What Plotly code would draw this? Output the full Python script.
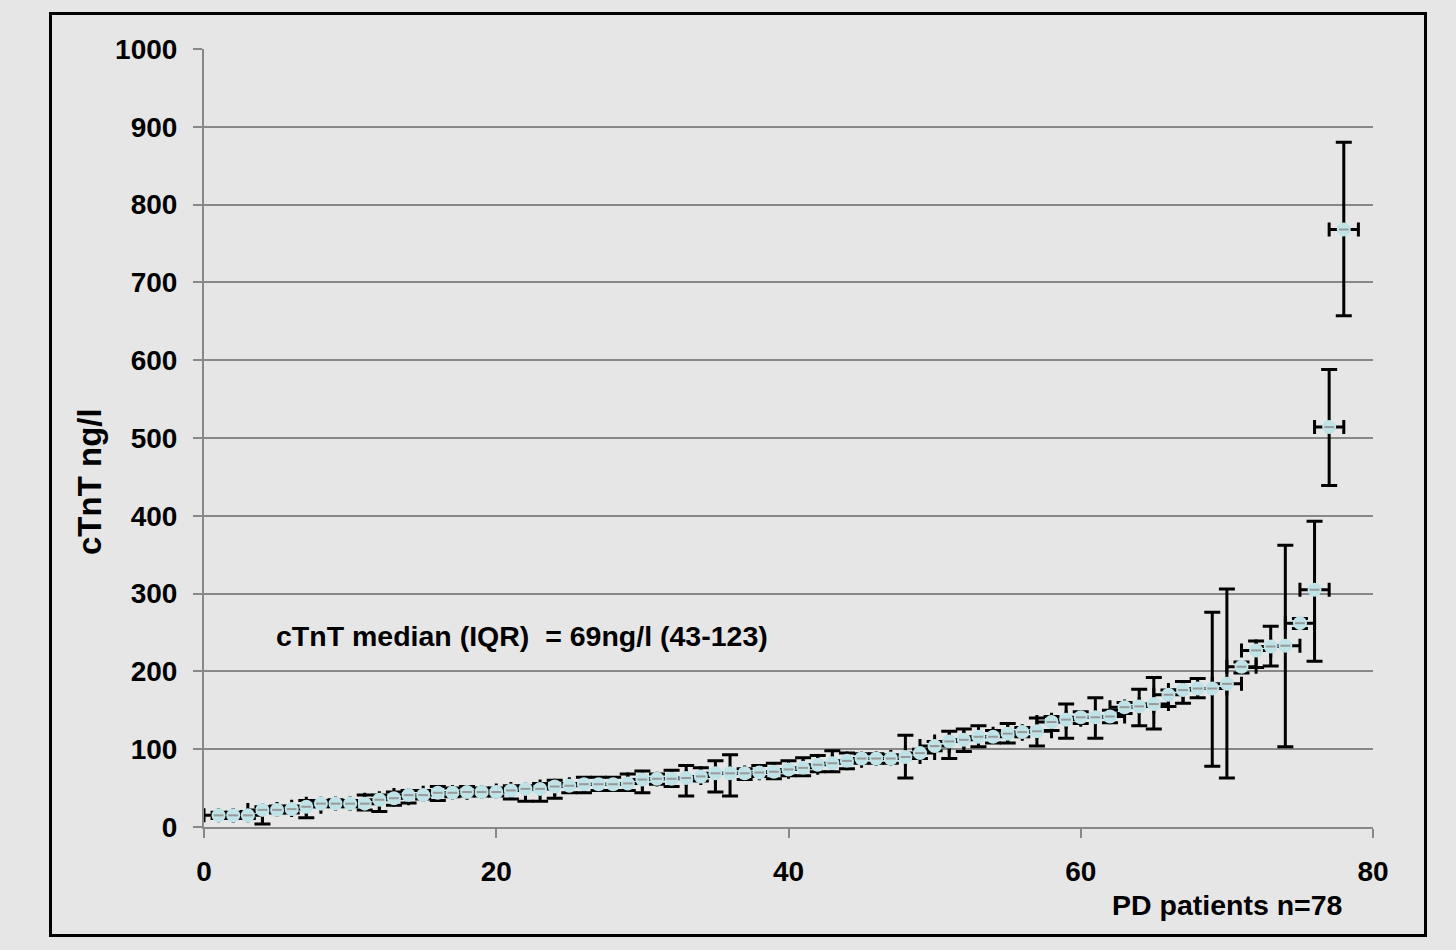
import plotly.graph_objects as go

# Patient index (sorted by cTnT)
patients = list(range(1, 79))

# cTnT median per patient (ng/l)
ctnt = [15, 15, 15, 22, 22, 23, 26, 30, 30, 30,
        30, 35, 37, 41, 41, 44, 44, 45, 45, 45,
        47, 49, 49, 52, 53, 55, 55, 55, 56, 61,
        62, 62, 63, 65, 69, 69, 69, 70, 71, 74,
        76, 80, 82, 85, 88, 88, 88, 90, 95, 104,
        110, 112, 116, 116, 120, 122, 123, 135, 138, 141,
        141, 142, 154, 155, 158, 170, 176, 178, 178, 184,
        206, 227, 232, 233, 262, 305, 514, 768]

# upper end of the range per patient
ctnt_high = [19, 19, 20, 26, 27, 27, 34, 34, 35, 34,
             41, 41, 45, 47, 47, 52, 50, 52, 50, 50,
             53, 53, 56, 60, 56, 64, 64, 64, 68, 72,
             68, 73, 79, 76, 85, 93, 75, 79, 82, 85,
             89, 92, 98, 95, 94, 94, 93, 118, 100, 110,
             123, 126, 130, 124, 133, 128, 140, 142, 158, 148,
             166, 150, 160, 177, 192, 176, 187, 191, 276, 306,
             212, 239, 258, 362, 268, 393, 588, 880]

# lower end of the range per patient
ctnt_low = [11, 11, 11, 4, 18, 18, 12, 26, 26, 26,
            22, 20, 28, 31, 36, 34, 39, 40, 40, 40,
            36, 33, 33, 37, 44, 44, 47, 47, 47, 44,
            55, 52, 40, 59, 45, 40, 61, 65, 62, 66,
            66, 71, 71, 75, 82, 82, 82, 63, 88, 98,
            88, 97, 103, 108, 108, 116, 104, 124, 114, 133,
            114, 134, 146, 130, 126, 155, 159, 166, 78, 63,
            198, 205, 207, 103, 255, 213, 439, 657]

x_err = [1] * len(patients)

y_ticks = [0, 100, 200, 300, 400, 500, 600, 700, 800, 900, 1000]
x_ticks = [0, 20, 40, 60, 80]

err_plus = [h - v for h, v in zip(ctnt_high, ctnt)]
err_minus = [v - l for v, l in zip(ctnt, ctnt_low)]

FONT = "Liberation Sans, Arial, sans-serif"
GRID = "#888888"
BG = "#e6e6e6"

fig = go.Figure()
fig.add_trace(go.Scatter(
    x=patients, y=ctnt, mode="markers",
    marker=dict(symbol="circle", size=14, color="#bfe3e6", line=dict(width=0)),
    error_y=dict(type="data", symmetric=False, array=err_plus, arrayminus=err_minus,
                 color="black", thickness=3, width=8),
    error_x=dict(type="data", array=x_err, color="black", thickness=3, width=7),
    showlegend=False, hoverinfo="x+y",
))
fig.add_trace(go.Scatter(
    x=patients, y=ctnt, mode="markers",
    marker=dict(symbol="line-ew", size=7, line=dict(width=2, color="#999999")),
    showlegend=False, hoverinfo="skip",
))

L, R, T, B = 204, 1373, 49, 827
W, H = 1456, 950
pw, ph = R - L, B - T

def px_x(p):
    return (p - L) / pw

def px_y(p):
    return (B - p) / ph

TF = dict(family=FONT, size=28, color="black", weight="bold")

fig.update_layout(
    width=W, height=H,
    margin=dict(l=L, r=W - R, t=T, b=H - B),
    paper_bgcolor=BG, plot_bgcolor=BG,
    font=dict(family=FONT, size=28, color="black", weight="bold"),
    xaxis=dict(range=[0, 80], tickvals=x_ticks, showgrid=False, zeroline=False,
               showline=True, linecolor=GRID, linewidth=2,
               ticks="outside", ticklen=9, tickwidth=2, tickcolor=GRID,
               ticklabelstandoff=9, tickfont=TF),
    yaxis=dict(range=[0, 1000], tickvals=y_ticks, showgrid=True, gridcolor=GRID, gridwidth=2,
               zeroline=False, showline=True, linecolor=GRID, linewidth=2,
               ticks="outside", ticklen=9, tickwidth=2, tickcolor=GRID,
               ticklabelstandoff=10, tickfont=TF),
    shapes=[dict(type="rect", xref="paper", yref="paper",
                 x0=px_x(50.5), x1=px_x(1425.5), y0=px_y(935.5), y1=px_y(13.5),
                 line=dict(color="black", width=3), fillcolor="rgba(0,0,0,0)", layer="below")],
    annotations=[
        dict(text="cTnT median (IQR) \u00a0= 69ng/l (43-123)", x=4.8, y=245,
             xref="x", yref="y", xanchor="left", yanchor="middle", showarrow=False,
             font=dict(family=FONT, size=28.5, color="black", weight="bold")),
        dict(text="PD patients n=78", x=px_x(1344), y=px_y(905), xref="paper", yref="paper",
             xanchor="right", yanchor="middle", showarrow=False,
             font=dict(family=FONT, size=28.5, color="black", weight="bold")),
        dict(text="cTnT ng/l", x=px_x(89), y=px_y(482), xref="paper", yref="paper",
             xanchor="center", yanchor="middle", textangle=-90, showarrow=False,
             font=dict(family=FONT, size=33, color="black", weight="bold")),
    ],
)

fig.write_html("out.html", config={"displayModeBar": False},
               post_script="document.body.style.margin='0';")
